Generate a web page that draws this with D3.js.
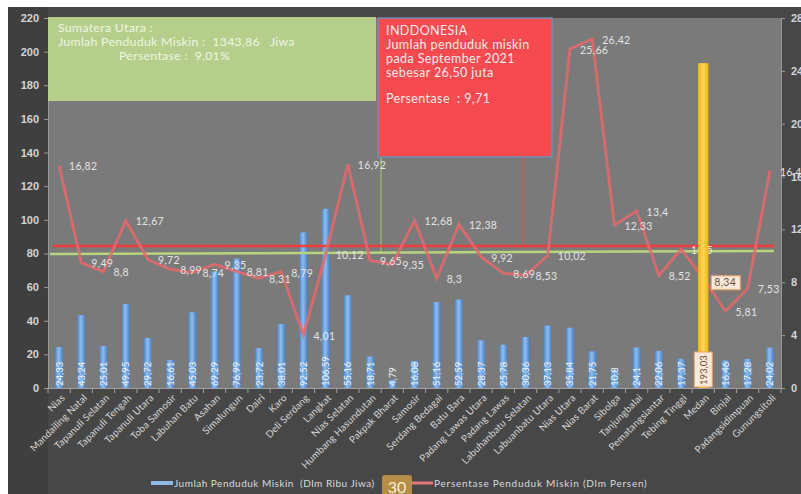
<!DOCTYPE html>
<html><head><meta charset="utf-8">
<script src="https://cdn.jsdelivr.net/npm/d3@7"></script>
<style>
html,body{margin:0;padding:0;background:#fff;}
svg{display:block;font-family:Lato,"Open Sans",sans-serif;}
text{white-space:pre;}
</style></head>
<body>
<script>
const categories = ["Nias","Mandailing Natal","Tapanuli Selatan","Tapanuli Tengah","Tapanuli Utara","Toba Samosir","Labuhan Batu","Asahan","Simalungun","Dairi","Karo","Deli Serdang","Langkat","Nias Selatan","Humbang Hasundutan","Pakpak Bharat","Samosir","Serdang Bedagai","Batu Bara","Padang Lawas Utara","Padang Lawas","Labuhanbatu Selatan","Labuanbatu Utara","Nias Utara","Nias Barat","Sibolga","Tanjungbalai","Pematangsiantar","Tebing Tinggi","Medan","Binjai","Padangsidimpuan","Gunungsitoli"];
const jumlahMiskin = [24.33,43.24,25.01,49.95,29.72,16.61,45.03,69.29,76.99,23.72,38.01,92.52,106.59,55.16,18.71,4.79,16.08,51.16,52.59,28.37,25.78,30.36,37.13,35.84,21.75,10.8,24.1,22.06,17.37,193.03,16.46,17.28,24.02];
const persentase = [16.82,9.49,8.8,12.67,9.72,8.99,8.74,9.35,8.81,8.31,8.79,4.01,10.12,16.92,9.65,9.35,12.68,8.3,12.38,9.92,8.69,8.53,10.02,25.66,26.42,12.33,13.4,8.52,10.5,8.34,5.81,7.53,16.42];
const leftTicks = [0,20,40,60,80,100,120,140,160,180,200,220];
const rightTicks = [0,4,8,12,16,20,24,28];
const highlight = "Medan";
// reference lines (in percent axis units)
const indonesiaLine = [10.75, 10.75];
const sumutLine = [10.14, 10.37];
const legendLabels = ["Jumlah Penduduk Miskin  (Dlm Ribu Jiwa)", "Persentase Penduduk Miskin (Dlm Persen)"];
const sumutText = ["Sumatera Utara :", "Jumlah Penduduk Miskin :  1343,86   Jiwa", "Persentase :  9,01%"];
const indoText = ["INDDONESIA", "Jumlah penduduk miskin", "pada September 2021", "sebesar 26,50 juta", "Persentase  : 9,71"];

const W = 801, H = 494;
const fmt = v => String(v).replace(".", ",");
const svg = d3.select("body").append("svg").attr("width", W).attr("height", H);
const defs = svg.append("defs");
const g1 = defs.append("linearGradient").attr("id","barG").attr("x1","0").attr("x2","1").attr("y1","0").attr("y2","0");
g1.append("stop").attr("offset","0").attr("stop-color","#4f86c6");
g1.append("stop").attr("offset","0.45").attr("stop-color","#8fbdf0");
g1.append("stop").attr("offset","1").attr("stop-color","#4a7fc0");
const g2 = defs.append("linearGradient").attr("id","yelG").attr("x1","0").attr("x2","1").attr("y1","0").attr("y2","0");
g2.append("stop").attr("offset","0").attr("stop-color","#f0b81a");
g2.append("stop").attr("offset","0.5").attr("stop-color","#ffd84a");
g2.append("stop").attr("offset","1").attr("stop-color","#efb515");

// backgrounds
svg.append("rect").attr("width",W).attr("height",H).attr("fill","#ffffff");
svg.append("rect").attr("x",8).attr("y",7).attr("width",W-8).attr("height",H-7).attr("fill","#474747");
svg.append("rect").attr("x",8).attr("y",7).attr("width",40).attr("height",H-7).attr("fill","#3f3f3f");

const x0 = 48, x1 = 781, yTop = 18, yBot = 388;
svg.append("rect").attr("x",x0).attr("y",yTop).attr("width",x1-x0).attr("height",yBot-yTop).attr("fill","#7a7a7a");

const x = d3.scaleBand().domain(categories).range([x0, x1]);
const yL = d3.scaleLinear().domain([0,220]).range([yBot, yTop]);
const yR = d3.scaleLinear().domain([0,28]).range([yBot, yTop]);
const cxOf = c => x(c)+x.bandwidth()/2;

// left axis
const axL = svg.append("g").attr("transform",`translate(${x0},0)`)
  .call(d3.axisLeft(yL).tickValues(leftTicks).tickSize(4).tickPadding(5));
axL.select(".domain").attr("stroke","#9a9a9a");
axL.selectAll(".tick line").attr("stroke","#9a9a9a");
axL.selectAll("text").attr("fill","#d4d4d4").attr("font-size",11).attr("font-weight","bold");

// right axis
const axR = svg.append("g").attr("transform",`translate(${x1},0)`)
  .call(d3.axisRight(yR).tickValues(rightTicks).tickSize(4).tickPadding(6));
axR.select(".domain").attr("stroke","#9a9a9a");
axR.selectAll(".tick line").attr("stroke","#9a9a9a");
axR.selectAll("text").attr("fill","#d4d4d4").attr("font-size",11).attr("font-weight","bold");

// x axis
const axX = svg.append("g").attr("transform",`translate(0,${yBot})`)
  .call(d3.axisBottom(x).tickSize(0).tickFormat(""));
axX.select(".domain").attr("stroke","#a0a0a0");
svg.append("g").selectAll("line").data(categories.concat(["_end"])).join("line")
  .attr("x1",(d,i)=>x0 + i*x.step()).attr("x2",(d,i)=>x0 + i*x.step())
  .attr("y1",yBot).attr("y2",yBot+5).attr("stroke","#a0a0a0");
svg.append("g").selectAll("text").data(categories).join("text")
  .attr("transform", d => `translate(${cxOf(d)+4},${yBot+8}) rotate(-45)`)
  .attr("text-anchor","end").attr("dy","0.35em")
  .attr("font-size",9.8).attr("letter-spacing",0.2).attr("fill","#d6d6d6").text(d=>d);

// green annotation box
const gb = svg.append("g");
gb.append("rect").attr("x",48).attr("y",17).attr("width",328).attr("height",84).attr("fill","#b9d38c").attr("opacity",0.95);
[[58,32],[58,46],[119,60]].forEach((p,i)=>{
  gb.append("text").attr("x",p[0]).attr("y",p[1]).attr("fill","#eef5e2").attr("font-size",12.3).attr("letter-spacing",0.3).text(sumutText[i]);
});
gb.append("line").attr("x1",381).attr("x2",381).attr("y1",101).attr("y2",yR(sumutLine[0]+0.1)).attr("stroke","#a8cc6a").attr("stroke-width",1);

// red connector
svg.append("line").attr("x1",523).attr("x2",523).attr("y1",157).attr("y2",yR(indonesiaLine[0])).attr("stroke","#e04848").attr("stroke-width",1);

// bars
const bars = svg.append("g");
const bw = 8;
bars.selectAll("rect").data(categories).join("rect")
  .attr("x",(d)=>cxOf(d) - (d===highlight?5:bw/2))
  .attr("width",d=>d===highlight?10:bw)
  .attr("y",(d,i)=>yL(jumlahMiskin[i]))
  .attr("height",(d,i)=>yBot - yL(jumlahMiskin[i]))
  .attr("fill",d=>d===highlight?"url(#yelG)":"url(#barG)");

// horizontal reference lines
svg.append("line").attr("x1",53).attr("x2",774).attr("y1",yR(indonesiaLine[0])).attr("y2",yR(indonesiaLine[1]))
  .attr("stroke","#f03c3c").attr("stroke-width",2.5);
svg.append("line").attr("x1",50).attr("x2",774).attr("y1",yR(sumutLine[0])).attr("y2",yR(sumutLine[1]))
  .attr("stroke","#b5d57e").attr("stroke-width",2.5);

// line series
const line = d3.line().x((d,i)=>cxOf(categories[i])).y(d=>yR(d));
svg.append("path").datum(persentase).attr("d",line).attr("fill","none")
  .attr("stroke","#e26a6c").attr("stroke-width",3).attr("stroke-opacity",0.85).attr("stroke-linejoin","miter");

// red box on top
const rb = svg.append("g");
rb.append("rect").attr("x",378).attr("y",18).attr("width",174).attr("height",139).attr("fill","#f54b50").attr("stroke","#6f8db5").attr("stroke-width",1.5);
[35,49,63,77,103].forEach((yy,i)=>{
  rb.append("text").attr("x",386).attr("y",yy).attr("fill","#ffe9e9").attr("font-size",12.5).attr("letter-spacing",0.4).text(indoText[i]);
});

// line value labels
const ll = svg.append("g");
persentase.forEach((v,i)=>{
  const cx = cxOf(categories[i]) + 10;
  const cy = yR(v);
  if (categories[i]===highlight) {
    ll.append("rect").attr("x",cx-2).attr("y",cy-2).attr("width",29).attr("height",14)
      .attr("fill","#fde9d9").attr("stroke","#f0a060").attr("stroke-width",1);
    ll.append("text").attr("x",cx+1).attr("y",cy+5).attr("dy","0.35em").attr("font-size",10.5).attr("letter-spacing",0.3).attr("fill","#6a5040").text(fmt(v));
  } else {
    ll.append("text").attr("x",cx).attr("y",cy+1).attr("dy","0.35em").attr("font-size",10.5).attr("letter-spacing",0.3).attr("fill","#e4e4e4").text(fmt(v));
  }
});

// highlighted bar drawn again above labels (hides label behind it, as in the original)
const hi = categories.indexOf(highlight);
svg.append("rect").attr("x",cxOf(highlight)-5).attr("width",10)
  .attr("y",yL(jumlahMiskin[hi])).attr("height",yBot-yL(jumlahMiskin[hi])).attr("fill","url(#yelG)");

// bar value labels
const bl = svg.append("g");
categories.forEach((c,i)=>{
  const cx = cxOf(c);
  if (c===highlight) {
    bl.append("rect").attr("x",cx-9).attr("y",352).attr("width",18).attr("height",35)
      .attr("fill","#fde9d9").attr("stroke","#f0a060").attr("stroke-width",1);
    bl.append("text").attr("transform",`translate(${cx+3.5},385) rotate(-90)`)
      .attr("font-size",9.5).attr("fill","#6a5040").text(fmt(jumlahMiskin[i]));
  } else {
    bl.append("text").attr("transform",`translate(${cx+3.5},386) rotate(-90)`)
      .attr("font-size",9.5).attr("fill","#f2f6fb").text(fmt(jumlahMiskin[i]));
  }
});

// legend
const lg = svg.append("g");
lg.append("line").attr("x1",151).attr("x2",173).attr("y1",483).attr("y2",483).attr("stroke","#8fb9e6").attr("stroke-width",4);
lg.append("text").attr("x",174).attr("y",487).attr("font-size",10).attr("fill","#dcdcdc").attr("letter-spacing",0.5).text(legendLabels[0]);
lg.append("rect").attr("x",382).attr("y",475).attr("width",30).attr("height",22).attr("rx",3).attr("fill","#b58d45");
lg.append("text").attr("x",397).attr("y",493).attr("text-anchor","middle").attr("font-size",16).attr("fill","#f4ecd8").text("30");
lg.append("line").attr("x1",412).attr("x2",433).attr("y1",483).attr("y2",483).attr("stroke","#e27a7c").attr("stroke-width",3);
lg.append("text").attr("x",434).attr("y",487).attr("font-size",10).attr("fill","#dcdcdc").attr("letter-spacing",0.75).text(legendLabels[1]);
</script>
</body></html>
